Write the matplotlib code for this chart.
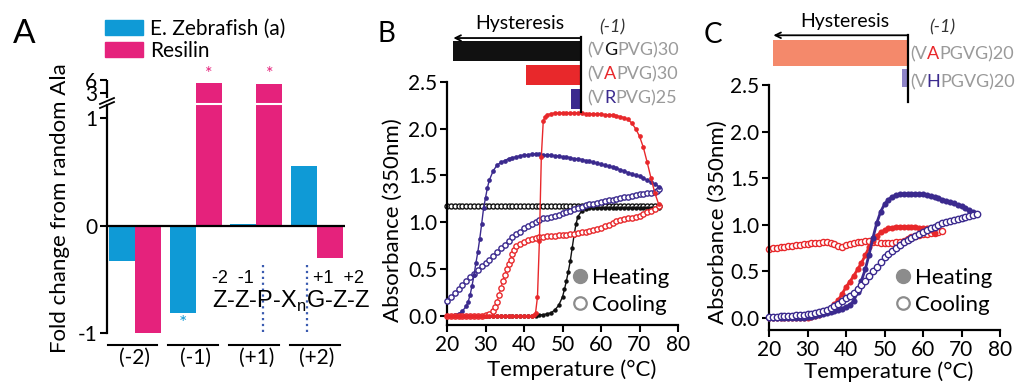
import numpy as np
import matplotlib
matplotlib.use('Agg')
import matplotlib.pyplot as plt
from matplotlib.lines import Line2D
from matplotlib.patches import Patch

plt.rcParams['font.family'] = ['Lato', 'DejaVu Sans']
plt.rcParams['mathtext.fontset'] = 'custom'
plt.rcParams['mathtext.rm'] = 'Lato'
plt.rcParams['axes.linewidth'] = 1.6

# ---------------- data ----------------
# panel A: fold change from random Ala
groups = ['(-2)', '(-1)', '(+1)', '(+2)']
zebrafish = [-0.33, -0.81, 0.01, 0.55]
resilin = [-1.0, 5.3, 5.1, -0.30]

# panel B: turbidity, heating (h) and cooling (c)
bh_t = [20, 21, 22, 23, 24, 25, 26, 27, 28, 29, 30, 31, 32, 33, 34, 35, 36, 37, 38, 39,
        40, 41, 42, 43, 44, 45, 46, 47, 48, 49, 50, 50.5, 51, 51.5, 52, 52.5, 53, 53.5,
        54, 55, 56, 57, 58, 59, 60, 61, 62, 63, 64, 65, 66, 67, 68, 69, 70, 71, 72, 73, 74, 75]
bh_a = [0.0, 0.0, 0.0, 0.0, 0.0, 0.0, 0.0, 0.0, 0.0, 0.0, 0.0, 0.0, 0.0, 0.0, 0.0, 0.0,
        0.0, 0.0, 0.0, 0.0, 0.0, 0.0, 0.0, 0.0, 0.01, 0.01, 0.02, 0.03, 0.06, 0.11, 0.20,
        0.28, 0.37, 0.47, 0.58, 0.72, 0.86, 0.98, 1.06, 1.12, 1.14, 1.15, 1.15, 1.15, 1.15,
        1.15, 1.15, 1.15, 1.15, 1.15, 1.15, 1.15, 1.15, 1.15, 1.15, 1.15, 1.15, 1.15, 1.15, 1.15]
bc_t = [20, 21, 22, 23, 24, 25, 26, 27, 28, 29, 30, 31, 32, 33, 34, 35, 36, 37, 38, 39,
        40, 41, 42, 43, 44, 45, 46, 47, 48, 49, 50, 51, 52, 53, 54, 55, 56, 57, 58, 59,
        60, 61, 62, 63, 64, 65, 66, 67, 68, 69, 70, 71, 72, 73, 74, 75]
bc_a = [1.17, 1.17, 1.17, 1.17, 1.17, 1.17, 1.17, 1.17, 1.17, 1.17, 1.17, 1.17, 1.17, 1.17,
        1.17, 1.17, 1.17, 1.17, 1.17, 1.17, 1.17, 1.17, 1.17, 1.17, 1.17, 1.17, 1.17, 1.17,
        1.17, 1.17, 1.17, 1.17, 1.17, 1.17, 1.17, 1.17, 1.17, 1.17, 1.17, 1.17, 1.17, 1.17,
        1.17, 1.17, 1.17, 1.17, 1.17, 1.17, 1.17, 1.17, 1.17, 1.17, 1.17, 1.17, 1.17, 1.17]
rh_t = [20, 21, 22, 23, 24, 25, 26, 27, 28, 29, 30, 31, 32, 33, 34, 35, 36, 37, 38, 39,
        40, 41, 42, 42.5, 43, 43.5, 44, 44.5, 45, 45.5, 46, 47, 48, 49, 50, 51, 52, 53, 54,
        55, 56, 57, 58, 59, 60, 61, 62, 63, 64, 65, 66, 67, 68, 69, 70, 71, 72, 73, 74, 75]
rh_a = [0.0, 0.0, 0.0, 0.0, 0.0, 0.0, 0.0, 0.0, 0.0, 0.0, 0.0, 0.0, 0.0, 0.0, 0.0, 0.0,
        0.0, 0.0, 0.0, 0.0, 0.0, 0.0, 0.0, 0.01, 0.03, 0.2, 0.8, 1.7, 2.08, 2.13, 2.15, 2.16,
        2.17, 2.17, 2.17, 2.17, 2.17, 2.17, 2.17, 2.17, 2.16, 2.16, 2.16, 2.16, 2.16, 2.15,
        2.15, 2.15, 2.14, 2.13, 2.12, 2.10, 2.06, 2.00, 1.92, 1.80, 1.64, 1.47, 1.31, 1.19]
rc_t = [20, 21, 22, 23, 24, 25, 26, 27, 28, 29, 30, 31, 32, 32.5, 33, 33.5, 34, 34.5, 35,
        35.5, 36, 36.5, 37, 37.5, 38, 39, 40, 41, 42, 43, 44, 45, 46, 47, 48, 49, 50, 51,
        52, 53, 54, 55, 56, 57, 58, 59, 60, 61, 62, 63, 64, 65, 66, 67, 68, 69, 70, 71,
        72, 73, 74, 75]
rc_a = [0.0, 0.0, 0.0, 0.0, 0.0, 0.0, 0.0, 0.0, 0.0, 0.0, 0.01, 0.02, 0.05, 0.09, 0.15,
        0.22, 0.30, 0.37, 0.44, 0.50, 0.55, 0.60, 0.66, 0.70, 0.74, 0.77, 0.79, 0.81, 0.82,
        0.83, 0.84, 0.84, 0.85, 0.85, 0.85, 0.86, 0.86, 0.86, 0.87, 0.87, 0.88, 0.89, 0.90,
        0.91, 0.92, 0.93, 0.94, 0.96, 0.97, 0.99, 1.01, 1.02, 1.03, 1.04, 1.05, 1.06, 1.07,
        1.09, 1.11, 1.12, 1.14, 1.17]
ph_t = [20, 21, 22, 23, 24, 25, 25.5, 26, 26.5, 27, 27.5, 28, 28.5, 29, 29.5, 30, 30.5, 31,
        32, 33, 34, 35, 36, 37, 38, 39, 40, 41, 42, 43, 44, 45, 46, 47, 48, 49, 50, 51, 52,
        53, 54, 55, 56, 57, 58, 59, 60, 61, 62, 63, 64, 65, 66, 67, 68, 69, 70, 71, 72, 73,
        74, 75]
ph_a = [0.0, 0.0, 0.01, 0.02, 0.05, 0.10, 0.15, 0.22, 0.32, 0.43, 0.56, 0.68, 0.82, 0.98,
        1.15, 1.26, 1.37, 1.45, 1.55, 1.61, 1.64, 1.66, 1.68, 1.69, 1.70, 1.71, 1.72, 1.72,
        1.73, 1.73, 1.73, 1.72, 1.72, 1.72, 1.71, 1.71, 1.70, 1.70, 1.69, 1.68, 1.68, 1.67,
        1.66, 1.65, 1.64, 1.63, 1.62, 1.61, 1.60, 1.59, 1.58, 1.56, 1.55, 1.53, 1.52, 1.50,
        1.49, 1.47, 1.45, 1.43, 1.41, 1.38]
pc_t = [20, 21, 22, 23, 24, 25, 26, 27, 28, 29, 30, 31, 32, 33, 34, 35, 36, 37, 38, 39,
        40, 41, 42, 43, 44, 45, 46, 47, 48, 49, 50, 51, 52, 53, 54, 55, 56, 57, 58, 59,
        60, 61, 62, 63, 64, 65, 66, 67, 68, 69, 70, 71, 72, 73, 74, 74.5, 75]
pc_a = [0.16, 0.20, 0.24, 0.28, 0.33, 0.37, 0.41, 0.45, 0.49, 0.53, 0.56, 0.60, 0.64, 0.68,
        0.72, 0.76, 0.80, 0.84, 0.87, 0.90, 0.94, 0.96, 0.98, 1.00, 1.02, 1.04, 1.05, 1.06,
        1.07, 1.08, 1.10, 1.11, 1.12, 1.14, 1.15, 1.16, 1.18, 1.19, 1.20, 1.21, 1.22, 1.23,
        1.24, 1.24, 1.25, 1.26, 1.27, 1.27, 1.28, 1.29, 1.30, 1.30, 1.31, 1.31, 1.32, 1.33, 1.36]

# panel C
c_t = [20, 21, 22, 23, 24, 25, 26, 27, 28, 29, 30, 31, 32, 33, 34, 35, 36, 37, 38, 39,
       40, 41, 42, 43, 44, 45, 46, 47, 48, 49, 50, 51, 52, 53, 54, 55, 56, 57, 58, 59,
       60, 61, 62, 63, 64, 65, 66, 67, 68, 69, 70, 71, 72, 73, 74]
c_ph = [0.0, 0.0, 0.0, 0.0, 0.0, 0.0, 0.0, 0.0, 0.0, 0.0, 0.01, 0.01, 0.02, 0.03, 0.04,
        0.05, 0.06, 0.07, 0.08, 0.10, 0.12, 0.14, 0.18, 0.28, 0.40, 0.52, 0.68, 0.86, 1.02,
        1.14, 1.22, 1.27, 1.30, 1.32, 1.33, 1.33, 1.33, 1.33, 1.33, 1.33, 1.33, 1.32, 1.31,
        1.30, 1.29, 1.27, 1.26, 1.24, 1.23, 1.21, 1.20, 1.18, 1.16, 1.14, 1.12]
c_pc = [0.01, 0.01, 0.01, 0.02, 0.02, 0.02, 0.02, 0.03, 0.03, 0.03, 0.04, 0.04, 0.05, 0.06,
        0.07, 0.09, 0.11, 0.13, 0.15, 0.18, 0.21, 0.24, 0.27, 0.31, 0.35, 0.40, 0.45, 0.50,
        0.55, 0.60, 0.65, 0.69, 0.72, 0.75, 0.78, 0.81, 0.84, 0.86, 0.88, 0.90, 0.92, 0.94,
        0.96, 0.98, 1.00, 1.02, 1.03, 1.04, 1.05, 1.06, 1.07, 1.08, 1.09, 1.10, 1.12]
c_rt = [20, 21, 22, 23, 24, 25, 26, 27, 28, 29, 30, 31, 32, 33, 34, 35, 36, 37, 38, 39,
        40, 41, 42, 43, 44, 45, 46, 47, 48, 49, 50, 51, 52, 53, 54, 55, 56, 57, 58, 59,
        60, 61, 62, 63]
c_rh = [0.0, 0.0, 0.0, 0.0, 0.0, 0.0, 0.0, 0.0, 0.0, 0.0, 0.0, 0.01, 0.02, 0.03, 0.05,
        0.08, 0.11, 0.15, 0.19, 0.26, 0.33, 0.39, 0.45, 0.52, 0.59, 0.67, 0.76, 0.83, 0.88,
        0.92, 0.94, 0.96, 0.97, 0.98, 0.98, 0.98, 0.98, 0.98, 0.98, 0.97, 0.97, 0.96, 0.94, 0.91]
c_ct = [20, 21, 22, 23, 24, 25, 26, 27, 28, 29, 30, 31, 32, 33, 34, 35, 36, 37, 38, 39,
        40, 41, 42, 43, 44, 45, 46, 47, 48, 49, 50, 51, 52, 53, 54, 55, 56, 57, 58, 59,
        60, 61, 62, 63, 64, 65]
c_rc = [0.74, 0.75, 0.75, 0.76, 0.76, 0.77, 0.77, 0.78, 0.78, 0.79, 0.79, 0.80, 0.80, 0.80,
        0.81, 0.81, 0.80, 0.79, 0.77, 0.76, 0.78, 0.79, 0.80, 0.81, 0.82, 0.83, 0.83, 0.82,
        0.81, 0.80, 0.80, 0.80, 0.80, 0.81, 0.82, 0.83, 0.85, 0.87, 0.88, 0.89, 0.90, 0.90,
        0.91, 0.91, 0.92, 0.93]

# hysteresis widths (deg C)
hyst_b = [33.2, 14.3, 2.6]
hyst_b_seq = [('(V', 'G', 'PVG)30'), ('(V', 'A', 'PVG)30'), ('(V', 'R', 'PVG)25')]
hyst_c = [35.0, 1.6]
hyst_c_seq = [('(V', 'A', 'PGVG)20'), ('(V', 'H', 'PGVG)20')]

BLUE = '#0f9ad6'
MAG = '#e5227c'
RED = '#e8282b'
PUR = '#3b2a8e'
GRAY = '#9a9a9a'
ARIAL = ['Liberation Sans', 'DejaVu Sans']

W, H = 1025, 385
fig = plt.figure(figsize=(W / 100, H / 100), dpi=100)


def rect(x0, y0, x1, y1):
    # pixel box (origin top-left) -> figure fraction
    return [x0 / W, 1 - y1 / H, (x1 - x0) / W, (y1 - y0) / H]


def fp(x, y):
    return x / W, 1 - y / H


# ---------------- panel A ----------------
def fwd(y):
    y = np.asarray(y, float)
    return np.where(y <= 1, y, np.where(y <= 3, 1 + (y - 1) * 0.117, 1.234 + (y - 3) * 0.04))


def inv(z):
    z = np.asarray(z, float)
    return np.where(z <= 1, z, np.where(z <= 1.234, 1 + (z - 1) / 0.117, 3 + (z - 1.234) / 0.04))


axA = fig.add_axes(rect(107, 80, 345, 333))
axA.set_yscale('function', functions=(fwd, inv))
xg = np.arange(len(groups))
axA.bar(xg - 0.215, zebrafish, 0.43, color=BLUE, zorder=2)
axA.bar(xg + 0.215, resilin, 0.43, color=MAG, zorder=2)
axA.set_xlim(-0.46, 3.46)
axA.set_ylim(-1, 6)
axA.axhline(0, color='k', lw=1.6, zorder=3)
axA.axhline(2.15, color='white', lw=1.5, zorder=3)
axA.set_yticks([-1, 0, 1, 3, 6])
axA.set_yticklabels(['-1', '0', '1', '3', '6'])
axA.set_xticks([])
for s in ['top', 'right', 'bottom']:
    axA.spines[s].set_visible(False)
axA.spines['left'].set_bounds(-1, 2.0)
axA.plot([0, 0], [2.6, 6], transform=axA.get_yaxis_transform(), color='k', lw=1.6,
         clip_on=False, solid_capstyle='butt')
axA.tick_params(axis='y', direction='out', length=5, width=1.5, labelsize=15, pad=2)
for (x0, y0, x1, y1) in [(100, 104, 114, 98), (100, 108, 114, 102)]:
    fig.add_artist(Line2D([x0 / W, x1 / W], [1 - y0 / H, 1 - y1 / H], color='k', lw=1.3))

for i, g in enumerate(groups):
    axA.plot([i - 0.45, i + 0.37], [-0.047, -0.047], transform=axA.get_xaxis_transform(),
             color='k', lw=1.5, clip_on=False)
    axA.text(i, -0.1, g, transform=axA.get_xaxis_transform(), ha='center', va='center',
             fontsize=15)

for i in [1, 2]:
    axA.annotate('*', xy=(i + 0.215, resilin[i]), xytext=(0, 1), textcoords='offset points',
                 ha='center', va='bottom', color=MAG, fontsize=13)
axA.annotate('*', xy=(1 - 0.215, zebrafish[1]), xytext=(0, -2), textcoords='offset points',
             ha='center', va='top', color=BLUE, fontsize=14)

axA.set_ylabel('Fold change from random Ala', fontsize=16, va='center')
axA.yaxis.set_label_coords(-0.197, 0.494)

fig.text(*fp(212, 308), r'Z-Z-P-X$_\mathregular{n}$G-Z-Z', fontsize=17, va='baseline',
         family=ARIAL)
fig.text(*fp(212, 283), '-2  -1', fontsize=13, va='baseline', family=ARIAL)
fig.text(*fp(313, 283), '+1  +2', fontsize=13, va='baseline', family=ARIAL)
for xd in [263, 307]:
    fig.add_artist(Line2D([xd / W, xd / W], [1 - 265 / H, 1 - 335 / H], color='#3a5bb0',
                          lw=1.6, ls=':'))

fig.legend([Patch(color=BLUE), Patch(color=MAG)], ['E. Zebrafish (a)', 'Resilin'],
           loc='upper left', bbox_to_anchor=fp(105, 19), frameon=False, fontsize=15,
           handlelength=1.8, handleheight=0.7, handletextpad=0.35, labelspacing=0.1,
           borderpad=0, borderaxespad=0)
fig.text(*fp(24, 34), 'A', fontsize=24, ha='center', va='center')


# ---------------- panels B and C ----------------
def style_turb(ax, ybot):
    ax.set_xlim(20, 80)
    ax.set_ylim(ybot, 2.5)
    ax.set_xticks([20, 30, 40, 50, 60, 70, 80])
    ax.set_yticks([0, 0.5, 1.0, 1.5, 2.0, 2.5])
    ax.set_yticklabels(['0.0', '0.5', '1.0', '1.5', '2.0', '2.5'])
    for s in ['top', 'right']:
        ax.spines[s].set_visible(False)
    ax.tick_params(direction='out', length=5, width=1.5, labelsize=15, pad=2)


def heat(ax, t, a, color, ms, lw, z):
    ax.plot(t, a, '-o', color=color, ms=ms, lw=lw, mew=0, zorder=z, clip_on=False)


def cool(ax, t, a, color, ms, lw, z):
    ax.plot(t, a, '-o', color=color, mfc='white', mec=color, ms=ms, mew=1.0, lw=lw,
            zorder=z, clip_on=False)


def hc_legend(ax, x, y):
    hs = [Line2D([], [], marker='o', ls='none', color='#8c8c8c', ms=10),
          Line2D([], [], marker='o', ls='none', mfc='white', mec='#8c8c8c', mew=1.6, ms=9)]
    ax.legend(hs, ['Heating', 'Cooling'], loc='upper left', bbox_to_anchor=(x, y),
              frameon=False, fontsize=16, handlelength=0.8, handletextpad=0.15,
              labelspacing=0.3, borderpad=0, borderaxespad=0)


def seq_text(x, y, parts, colors, fs):
    r = fig.canvas.get_renderer()
    for s, c in zip(parts, colors):
        t = fig.text(x / W, 1 - y / H, s, color=c, fontsize=fs, va='baseline')
        x = t.get_window_extent(r).x1


def hyst_inset(box, vals, colors, heights, ymax, xmax, line_y, arrow_y):
    ins = fig.add_axes(rect(*box))
    ins.barh(np.arange(len(vals)), vals, height=heights, color=colors)
    ins.set_xlim(xmax, 0)
    ins.set_ylim(ymax, -0.5)
    ins.axis('off')
    ins.plot([0, 0], line_y, color='k', lw=1.6, clip_on=False)
    ins.annotate('', xy=(xmax - 0.1, arrow_y), xytext=(0, arrow_y), annotation_clip=False,
                 arrowprops=dict(arrowstyle='->', lw=1.3, color='k', shrinkA=0, shrinkB=0))
    return ins


# panel B
axB = fig.add_axes(rect(447, 82, 678, 325))
style_turb(axB, -0.1)
cool(axB, bc_t, bc_a, '#111111', 3.6, 0.8, 2)
heat(axB, bh_t, bh_a, '#111111', 3.2, 1.0, 3)
cool(axB, pc_t, pc_a, PUR, 3.8, 0.8, 4)
heat(axB, ph_t, ph_a, PUR, 3.4, 1.0, 5)
cool(axB, rc_t, rc_a, RED, 3.8, 0.8, 6)
heat(axB, rh_t, rh_a, RED, 3.4, 1.0, 7)
axB.set_xlabel('Temperature (°C)', fontsize=16, va='center')
axB.xaxis.set_label_coords(0.54, -0.185)
axB.set_ylabel('Absorbance (350nm)', fontsize=16, va='center')
axB.yaxis.set_label_coords(-0.234, 0.43)
hc_legend(axB, 0.537, 0.235)
fig.text(*fp(386, 34), 'B', fontsize=20, ha='center', va='center')

hyst_inset((453, 39, 581, 111), hyst_b, ['#111111', RED, PUR], 0.85, 2.5, 33.25,
           [-0.58, 2.54], -0.54)
fig.text(*fp(520, 23), 'Hysteresis', fontsize=14, ha='center', va='center')
fig.text(*fp(612, 27), '(-1)', fontsize=13, ha='center', va='center', style='italic',
         color='#333333')
for k, (parts, mid) in enumerate(zip(hyst_b_seq, ['#111111', RED, PUR])):
    seq_text(587, 55 + 24 * k, parts, [GRAY, mid, GRAY], 13)

# panel C
axC = fig.add_axes(rect(769, 85, 1000, 330))
style_turb(axC, -0.13)
cool(axC, c_ct, c_rc, RED, 4.4, 0.8, 2)
heat(axC, c_rt, c_rh, RED, 4.4, 2.0, 3)
heat(axC, c_t, c_ph, PUR, 4.4, 2.0, 4)
cool(axC, c_t, c_pc, PUR, 4.6, 0.8, 5)
axC.set_xlabel('Temperature (°C)', fontsize=16, va='center')
axC.xaxis.set_label_coords(0.52, -0.171)
axC.set_ylabel('Absorbance (350nm)', fontsize=16, va='center')
axC.yaxis.set_label_coords(-0.221, 0.44)
hc_legend(axC, 0.541, 0.253)
fig.text(*fp(713, 35), 'C', fontsize=20, ha='center', va='center')

hyst_inset((773, 40.35, 908, 90.95), hyst_c, ['#f4896b', '#8e84c8'], [1.0, 0.7], 1.5, 35.06,
           [-0.71, 1.94], -0.7)
fig.text(*fp(845, 22), 'Hysteresis', fontsize=14, ha='center', va='center')
fig.text(*fp(942, 27), '(-1)', fontsize=13, ha='center', va='center', style='italic',
         color='#333333')
for k, (parts, mid) in enumerate(zip(hyst_c_seq, [RED, PUR])):
    seq_text(910, 59 + 28 * k, parts, [GRAY, mid, GRAY], 13)

fig.savefig('out.png', dpi=100)
